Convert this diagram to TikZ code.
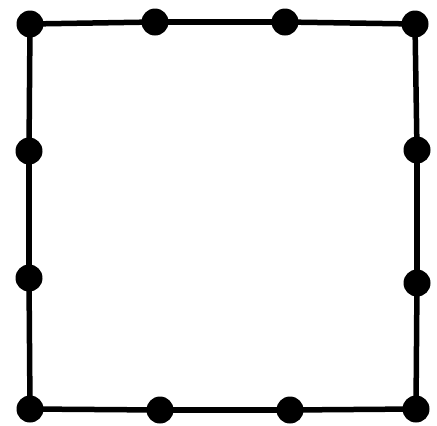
\documentclass[tikz,border=0pt]{standalone}
\usepackage{tikz}
\usetikzlibrary{positioning}

\begin{document}
\begin{tikzpicture}[x=1pt, y=-1pt,
  dot/.style={circle,fill=black,inner sep=0pt,minimum size=27pt},
  edge/.style={line width=5.5pt,shorten <=-6pt,shorten >=-6pt}]
 \useasboundingbox (0,0) rectangle (437,426);
 % corners
 \node[dot] (tl) at (30,24) {};
 \node[dot] (tr) at (415,24) {};
 \node[dot] (bl) at (30,409) {};
 \node[dot] (br) at (416,409) {};
 % side points
 \node[dot] (t1) at (155,22) {};
 \node[dot] (t2) at (285,22) {};
 \node[dot] (r1) at (417,150) {};
 \node[dot] (r2) at (417,283) {};
 \node[dot] (b1) at (160,410) {};
 \node[dot] (b2) at (290,410) {};
 \node[dot] (l1) at (29,151) {};
 \node[dot] (l2) at (29,278) {};
 % square sides
 \draw[edge] (tl) -- (t1);
 \draw[edge] (t1) -- (t2);
 \draw[edge] (t2) -- (tr);
 \draw[edge] (tr) -- (r1);
 \draw[edge] (r1) -- (r2);
 \draw[edge] (r2) -- (br);
 \draw[edge] (br) -- (b2);
 \draw[edge] (b2) -- (b1);
 \draw[edge] (b1) -- (bl);
 \draw[edge] (bl) -- (l2);
 \draw[edge] (l2) -- (l1);
 \draw[edge] (l1) -- (tl);
\end{tikzpicture}
\end{document}
